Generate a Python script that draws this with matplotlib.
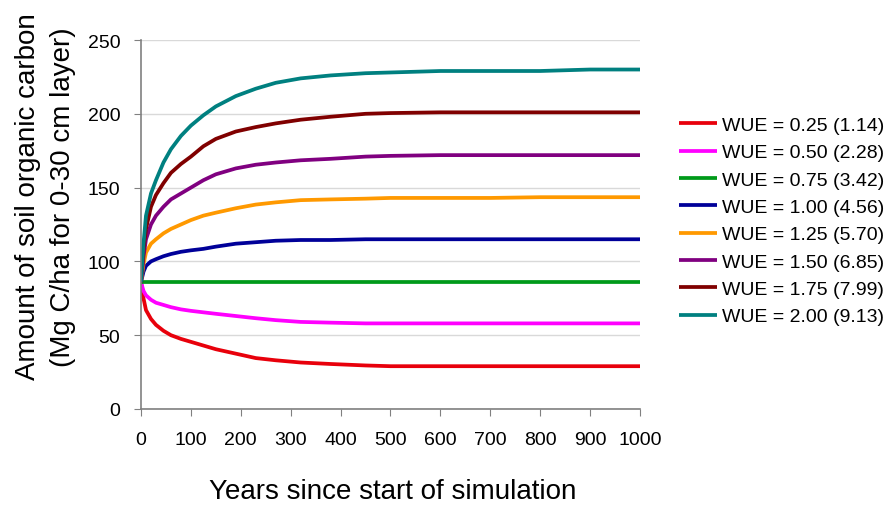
import matplotlib
matplotlib.use("Agg")
import matplotlib.pyplot as plt

plt.rcParams['font.family'] = ['Liberation Sans', 'DejaVu Sans']

years = [0, 5, 10, 20, 30, 45, 60, 80, 100, 125, 150, 190, 230, 270, 320, 380, 450, 500,
         600, 700, 800, 900, 1000]

labels = ["WUE = 0.25 (1.14)", "WUE = 0.50 (2.28)", "WUE = 0.75 (3.42)", "WUE = 1.00 (4.56)",
          "WUE = 1.25 (5.70)", "WUE = 1.50 (6.85)", "WUE = 1.75 (7.99)", "WUE = 2.00 (9.13)"]
colors = ["#E8000B", "#FF00FF", "#009A1A", "#000099", "#FF9900", "#800080", "#800000", "#008080"]

wue_025 = [86, 75, 67, 61, 57, 53, 50, 47.5, 45.5, 43, 40.5, 37.5, 34.5, 33, 31.5, 30.5, 29.5, 29,
           29, 29, 29, 29, 29]
wue_050 = [86, 80, 77, 74, 72, 70.5, 69, 67.5, 66.5, 65.5, 64.5, 63, 61.5, 60.2, 59, 58.5, 58, 58,
           58, 58, 58, 58, 58]
wue_075 = [86, 86, 86, 86, 86, 86, 86, 86, 86, 86, 86, 86, 86, 86, 86, 86, 86, 86,
           86, 86, 86, 86, 86]
wue_100 = [86, 93, 97, 100, 101.5, 103.5, 105, 106.5, 107.5, 108.5, 110, 112, 113, 114, 114.5, 114.5, 115, 115,
           115, 115, 115, 115, 115]
wue_125 = [86, 98, 106, 112, 115, 119, 122, 125, 128, 131, 133, 136, 138.5, 140, 141.5, 142, 142.5, 143,
           143, 143, 143.5, 143.5, 143.5]
wue_150 = [86, 103, 115, 125, 131, 137, 142, 146, 150, 155, 159, 163, 165.5, 167, 168.5, 169.5, 171, 171.5,
           172, 172, 172, 172, 172]
wue_175 = [86, 108, 122, 137, 145, 153, 160, 166, 171, 178, 183, 188, 191, 193.5, 196, 198, 200, 200.5,
           201, 201, 201, 201, 201]
wue_200 = [86, 112, 131, 146, 155, 167, 176, 185, 192, 199, 205, 212, 217, 221, 224, 226, 227.5, 228,
           229, 229, 229, 230, 230]

series = [wue_025, wue_050, wue_075, wue_100, wue_125, wue_150, wue_175, wue_200]

fig = plt.figure(figsize=(8.86, 5.06), dpi=100)
ax = fig.add_axes([141/886, 1 - 410/506, (640-141)/886, (410-41)/506])

for s, c, l in zip(series, colors, labels):
    ax.plot(years, s, color=c, lw=2.7, label=l, solid_capstyle='butt', solid_joinstyle='round')

ax.set_xlim(0, 1000)
ax.set_ylim(0, 250)
ax.set_xticks(range(0, 1001, 100))
ax.set_yticks(range(0, 251, 50))
ax.yaxis.grid(True, color='#D9D9D9', lw=1)
ax.set_axisbelow(True)
for sp in ['top', 'right']:
    ax.spines[sp].set_visible(False)
for sp in ['left', 'bottom']:
    ax.spines[sp].set_color('#808080')
    ax.spines[sp].set_linewidth(1.2)
ax.tick_params(axis='both', direction='out', length=5, color='#808080', labelsize=14)
ax.tick_params(axis='y', pad=10)
ax.tick_params(axis='x', pad=11)

ax.set_xlabel("Years since start of simulation", fontsize=20)
ax.xaxis.set_label_coords(0.505, -0.222)
ax.xaxis.label.set_va('center')
ax.set_ylabel("Amount of soil organic carbon\n(Mg C/ha for 0-30 cm layer)", fontsize=20, linespacing=1.45)
ax.yaxis.set_label_coords(-0.192, 0.577)
ax.yaxis.label.set_va('center')

leg = fig.legend(*ax.get_legend_handles_labels(), loc='center left',
                 bbox_to_anchor=(679/886, 1 - 222/506), bbox_transform=fig.transFigure,
                 frameon=False, fontsize=14, borderpad=0, borderaxespad=0,
                 handlelength=1.96, labelspacing=0.5, handletextpad=0.26)

fig.savefig("out.png", dpi=100)
